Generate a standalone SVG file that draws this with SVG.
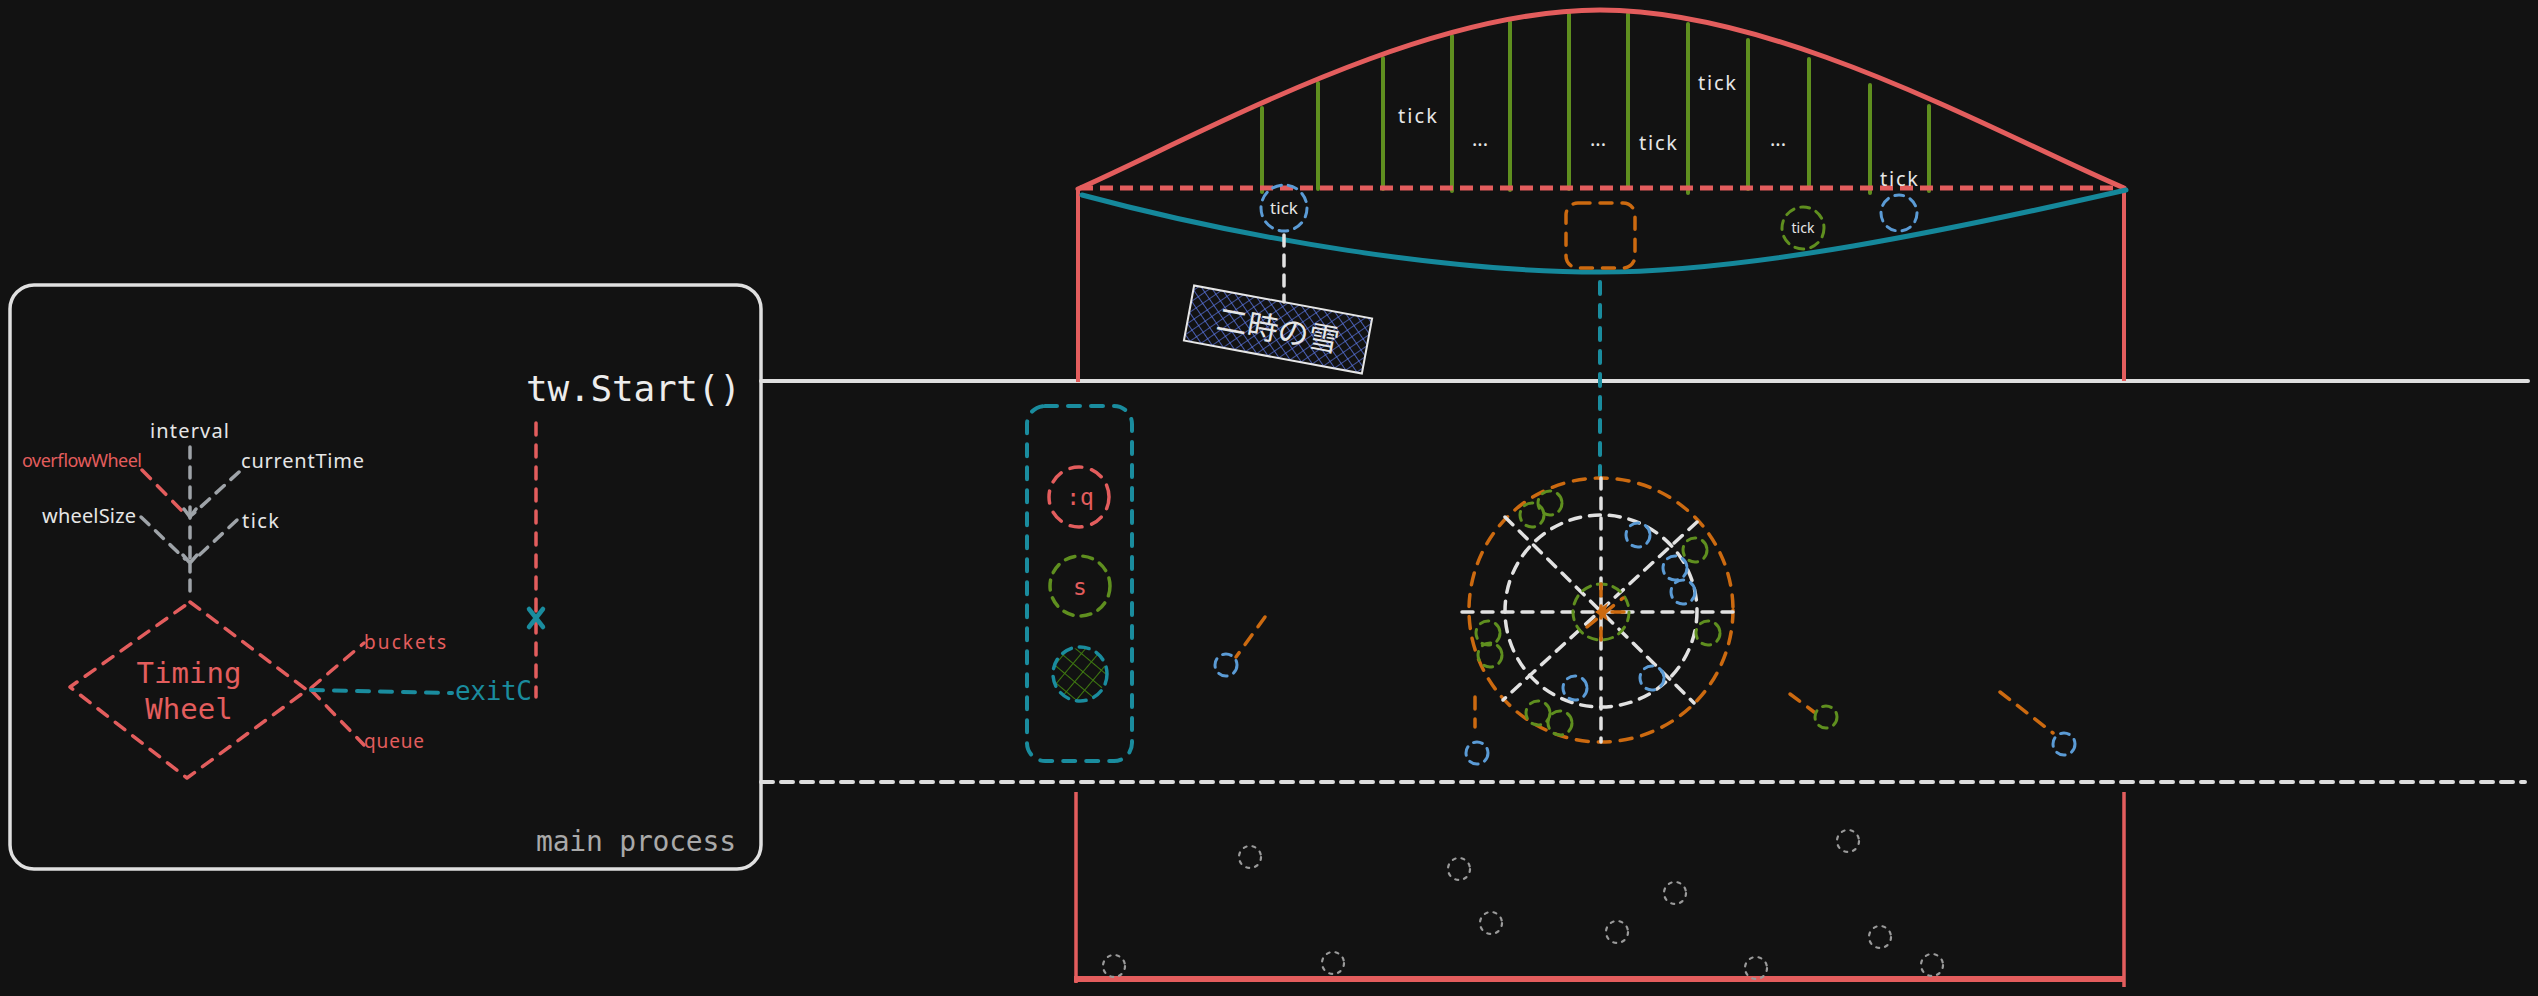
<svg xmlns="http://www.w3.org/2000/svg" width="2538" height="996" viewBox="0 0 2538 996">
<defs>
<style>
.hand{font-family:"Noto Sans","DejaVu Sans",sans-serif;}
.mono{font-family:"DejaVu Sans Mono","Liberation Mono",monospace;}
.cjk{font-family:"Noto Sans CJK JP","Noto Sans CJK SC",sans-serif;}
.tw{fill:#e6e6e6}
.tr{fill:#e35d5d}
.tt{fill:#1a8c9e}
.dRed{fill:none;stroke:#e35d5d;stroke-width:3.5;stroke-dasharray:12 10;stroke-linecap:round;stroke-linejoin:round}
.dGray{fill:none;stroke:#9ea3a8;stroke-width:3.5;stroke-dasharray:11 9;stroke-linecap:round}
.dTeal{fill:none;stroke:#1a8c9e;stroke-width:4;stroke-dasharray:12 11;stroke-linecap:round}
.dWhite{fill:none;stroke:#e2e2e2;stroke-width:3.5;stroke-dasharray:11 9;stroke-linecap:round}
.dOrange{fill:none;stroke:#cc6a10;stroke-width:3.5;stroke-dasharray:12 10;stroke-linecap:round}
.cBlue{fill:none;stroke:#5b9bd5;stroke-width:3;stroke-dasharray:9 7;stroke-linecap:round}
.cGreen{fill:none;stroke:#5f8f1f;stroke-width:3;stroke-dasharray:9 7;stroke-linecap:round}
.cGray{fill:none;stroke:#9a9a9a;stroke-width:2.2;stroke-dasharray:3 6;stroke-linecap:round}
.green{stroke:#5f8f1f;stroke-width:4;stroke-linecap:round}
</style>
<pattern id="hatchBlue" width="8" height="8" patternUnits="userSpaceOnUse" patternTransform="rotate(45)">
<path d="M0,0 V8 M0,0 H8" stroke="#5b78e6" stroke-width="1.3"/>
</pattern>
<pattern id="hatchGreen" width="13" height="13" patternUnits="userSpaceOnUse" patternTransform="rotate(40)">
<path d="M0,0 V13 M0,0 H13" stroke="#3f7a10" stroke-width="2"/>
</pattern>
</defs>
<rect width="2538" height="996" fill="#121212"/>

<g id="connectors">
<line x1="761" y1="381" x2="2528" y2="381" stroke="#dedede" stroke-width="4" stroke-linecap="round"/>
<line x1="761" y1="782" x2="2525" y2="782" stroke="#dedede" stroke-width="4" stroke-dasharray="12 8" stroke-linecap="round"/>
<path class="dGray" d="M190,447 V558"/>
<path class="dGray" d="M239,472 L193,514"/>
<path class="dRed" d="M142,470 L188,517"/>
<path class="dGray" d="M141,517 L185,559"/>
<path class="dGray" d="M237,520 L195,559"/>
<path fill="none" stroke="#9ea3a8" stroke-width="3.5" stroke-linecap="round" d="M184,509 L190,517 L196,509 M183,555 L190,563 L197,555 M190,563 V572"/>
<path class="dGray" d="M190,580 V598"/>
<path class="dRed" d="M311,688 L364,643"/>
<path class="dRed" d="M311,690 L364,745"/>
<path class="dTeal" d="M311,690 L452,693"/>
<path class="dRed" d="M536,423 V697"/>
<path fill="none" stroke="#1a8c9e" stroke-width="4.5" stroke-linecap="round" d="M529,609 L543,627 M543,609 L529,627"/>
<path fill="none" stroke="#e35d5d" stroke-width="4" d="M1078,188 V382 M2124,188 V381"/>
<g>
<line class="green" x1="1262" y1="108" x2="1262" y2="192"/>
<line class="green" x1="1318" y1="83" x2="1318" y2="189"/>
<line class="green" x1="1383" y1="58" x2="1383" y2="189"/>
<line class="green" x1="1452" y1="36" x2="1452" y2="191"/>
<line class="green" x1="1510" y1="22" x2="1510" y2="190"/>
<line class="green" x1="1569" y1="14" x2="1569" y2="189"/>
<line class="green" x1="1628" y1="14" x2="1628" y2="188"/>
<line class="green" x1="1688" y1="24" x2="1688" y2="193"/>
<line class="green" x1="1748" y1="40" x2="1748" y2="189"/>
<line class="green" x1="1809" y1="59" x2="1809" y2="188"/>
<line class="green" x1="1870" y1="85" x2="1870" y2="193"/>
<line class="green" x1="1929" y1="106" x2="1929" y2="191"/>
</g>
<path fill="none" stroke="#e35d5d" stroke-width="5" stroke-linecap="round" d="M1078,189 C1200,135 1420,10 1600,10 C1780,10 2000,135 2124,188"/>
<path fill="none" stroke="#e35d5d" stroke-width="5" stroke-dasharray="13 7" d="M1080,188 H2124"/>
<path fill="none" stroke="#15889b" stroke-width="5" stroke-linecap="round" d="M1082,195 C1250,240 1450,272 1600,272 C1750,272 1950,230 2126,190"/>
<path class="dWhite" d="M1284,235 V302"/>
<path class="dTeal" d="M1600,282 V478"/>
<path fill="none" stroke="#e35d5d" stroke-width="3.5" d="M1076,792 V983 M2124,792 V987"/>
<path fill="none" stroke="#e35d5d" stroke-width="6" d="M1074,979 H2124"/>
<path class="dOrange" d="M1265,617 L1236,657"/>
<path class="dOrange" d="M1475,697 V727"/>
<path class="dOrange" d="M1790,694 L1814,712"/>
<path class="dOrange" d="M2000,692 L2053,733"/>
</g>

<g id="main-process">
<rect x="10" y="285" width="751" height="584" rx="24" fill="none" stroke="#e0e0e0" stroke-width="3.5"/>
<text class="mono" x="526" y="401" font-size="36" fill="#ececec" textLength="215">tw.Start()</text>
<text class="mono" x="536" y="851" font-size="28" fill="#a9a9a9" textLength="200">main process</text>
</g>

<g id="timing-wheel">
<polygon class="dRed" points="190,602 307,690 187,778 70,687"/>
<text class="mono tr" x="189" y="683" font-size="29" text-anchor="middle">Timing</text>
<text class="mono tr" x="189" y="719" font-size="29" text-anchor="middle">Wheel</text>
</g>

<g id="field-labels" class="hand">
<text class="tw" x="150" y="438" font-size="20" textLength="79">interval</text>
<text class="tr" x="22" y="467" font-size="18" textLength="120">overflowWheel</text>
<text class="tw" x="241" y="468" font-size="20" textLength="123">currentTime</text>
<text class="tw" x="42" y="523" font-size="20" textLength="94">wheelSize</text>
<text class="tw" x="242" y="528" font-size="20" textLength="37">tick</text>
<text class="tr" x="364" y="649" font-size="19" textLength="82">buckets</text>
<text class="tr" x="364" y="748" font-size="19" textLength="60">queue</text>
</g>

<g id="exitC">
<text class="mono tt" x="455" y="700" font-size="26" textLength="77">exitC</text>
</g>

<g id="tick-labels" class="hand">
<text class="tw" x="1398" y="123" font-size="20" textLength="39">tick</text>
<text class="tw" x="1639" y="150" font-size="20" textLength="38">tick</text>
<text class="tw" x="1698" y="90" font-size="20" textLength="38">tick</text>
<text class="tw" x="1880" y="186" font-size="20" textLength="38">tick</text>
<text class="tw" x="1480" y="146" font-size="20" text-anchor="middle">...</text>
<text class="tw" x="1598" y="146" font-size="20" text-anchor="middle">...</text>
<text class="tw" x="1778" y="146" font-size="20" text-anchor="middle">...</text>
</g>

<g id="tick-blue">
<circle class="cBlue" cx="1284" cy="208" r="23"/>
<text class="hand tw" x="1284" y="214" font-size="17" text-anchor="middle">tick</text>
</g>
<g id="tick-green">
<circle class="cGreen" cx="1803" cy="228" r="21"/>
<text class="hand tw" x="1803" y="233" font-size="14" text-anchor="middle">tick</text>
</g>
<g id="tick-blue-empty">
<circle class="cBlue" cx="1899" cy="213" r="18"/>
</g>
<g id="orange-slot">
<rect x="1566" y="203" width="69" height="65" rx="12" fill="none" stroke="#cc6a10" stroke-width="3.5" stroke-dasharray="12 10" stroke-linecap="round"/>
</g>

<g id="snow-label" transform="rotate(10.5 1278 329.5)">
<rect x="1187.5" y="301.5" width="181" height="56" fill="url(#hatchBlue)" stroke="#e6e6e6" stroke-width="2"/>
<text class="cjk tw" x="1278" y="341" font-size="31" text-anchor="middle">二時の雪</text>
</g>

<g id="queue-box">
<rect class="dTeal" x="1027" y="406" width="105" height="355" rx="18"/>
<circle class="dRed" cx="1079" cy="497" r="30" stroke-dasharray="10 8"/>
<text class="mono tr" x="1080" y="505" font-size="23" text-anchor="middle">:q</text>
<circle cx="1080" cy="586" r="30" fill="none" stroke="#5f8f1f" stroke-width="3.5" stroke-dasharray="10 8" stroke-linecap="round"/>
<text class="mono tr" x="1080" y="595" font-size="23" text-anchor="middle">s</text>
<circle cx="1080" cy="674" r="26" fill="url(#hatchGreen)"/>
<circle cx="1080" cy="674" r="27" fill="none" stroke="#1a8c9e" stroke-width="3.5" stroke-dasharray="10 8" stroke-linecap="round"/>
</g>

<g id="wheel">
<circle class="dOrange" cx="1601" cy="610" r="132"/>
<circle class="dWhite" cx="1601" cy="611" r="96"/>
<path class="dWhite" d="M1462,612 H1733 M1601,478 V742 M1505,517 L1694,703 M1697,522 L1503,700"/>
<circle class="cGreen" cx="1601" cy="612" r="28"/>
<path class="dOrange" d="M1601,584 V640 M1587,627 L1623,598 M1612,612 H1625" stroke-dasharray="8 7"/>
<path fill="#cc6a10" d="M1595,612 L1608,603 L1605,612 L1608,621 Z"/>
<circle class="cGreen" cx="1532" cy="515" r="12"/>
<circle class="cGreen" cx="1550" cy="503" r="12"/>
<circle class="cBlue" cx="1638" cy="535" r="12"/>
<circle class="cGreen" cx="1695" cy="550" r="12"/>
<circle class="cBlue" cx="1675" cy="568" r="12"/>
<circle class="cBlue" cx="1683" cy="592" r="12"/>
<circle class="cGreen" cx="1708" cy="633" r="12"/>
<circle class="cGreen" cx="1488" cy="633" r="12"/>
<circle class="cGreen" cx="1490" cy="655" r="12"/>
<circle class="cBlue" cx="1575" cy="688" r="12"/>
<circle class="cBlue" cx="1652" cy="678" r="12"/>
<circle class="cGreen" cx="1538" cy="713" r="12"/>
<circle class="cGreen" cx="1560" cy="723" r="12"/>
</g>

<g id="pending-tasks">
<circle class="cBlue" cx="1226" cy="665" r="11"/>
<circle class="cBlue" cx="1477" cy="753" r="11"/>
<circle class="cGreen" cx="1826" cy="717" r="11"/>
<circle class="cBlue" cx="2064" cy="744" r="11"/>
</g>

<g id="disk-items">
<circle class="cGray" cx="1250" cy="857" r="11"/>
<circle class="cGray" cx="1459" cy="869" r="11"/>
<circle class="cGray" cx="1675" cy="893" r="11"/>
<circle class="cGray" cx="1848" cy="841" r="11"/>
<circle class="cGray" cx="1491" cy="923" r="11"/>
<circle class="cGray" cx="1617" cy="932" r="11"/>
<circle class="cGray" cx="1880" cy="937" r="11"/>
<circle class="cGray" cx="1114" cy="966" r="11"/>
<circle class="cGray" cx="1333" cy="963" r="11"/>
<circle class="cGray" cx="1756" cy="968" r="11"/>
<circle class="cGray" cx="1932" cy="965" r="11"/>
</g>
</svg>
